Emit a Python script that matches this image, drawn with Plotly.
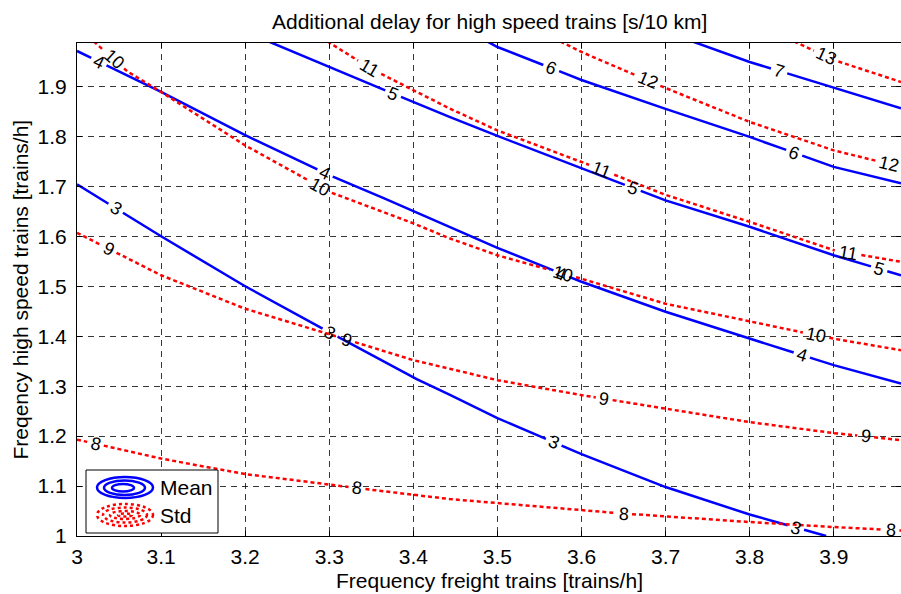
import numpy as np
import plotly.graph_objects as go

# Axis extents
X_RANGE = [3.0, 3.98]
Y_RANGE = [1.0, 1.987]

# Tick labels
x_tickvals = [3.0, 3.1, 3.2, 3.3, 3.4, 3.5, 3.6, 3.7, 3.8, 3.9]
x_ticktext = ["3", "3.1", "3.2", "3.3", "3.4", "3.5", "3.6", "3.7", "3.8", "3.9"]
y_tickvals = [1.0, 1.1, 1.2, 1.3, 1.4, 1.5, 1.6, 1.7, 1.8, 1.9]
y_ticktext = ["1", "1.1", "1.2", "1.3", "1.4", "1.5", "1.6", "1.7", "1.8", "1.9"]

# Mean delay contours [s/10 km]
mean_3_x = [3.0, 3.1, 3.2, 3.3, 3.404, 3.443, 3.5, 3.6, 3.7, 3.8, 3.891]
mean_3_y = [1.704, 1.600, 1.500, 1.408, 1.314, 1.283, 1.236, 1.164, 1.098, 1.043, 1.0]
mean_3_labels = [3.046, 3.301, 3.567, 3.855]

mean_4_x = [3.0, 3.1, 3.2, 3.305, 3.364, 3.4, 3.443, 3.5, 3.6, 3.7, 3.8, 3.9, 3.98]
mean_4_y = [1.971, 1.889, 1.8025, 1.719, 1.677, 1.650, 1.619, 1.577, 1.509, 1.449, 1.395, 1.342, 1.305]
mean_4_labels = [3.026, 3.295, 3.576, 3.862]

mean_5_x = [3.225, 3.3, 3.4, 3.443, 3.5, 3.6, 3.7, 3.8, 3.9, 3.98]
mean_5_y = [1.992, 1.939, 1.869, 1.839, 1.801, 1.736, 1.672, 1.619, 1.562, 1.522]
mean_5_labels = [3.376, 3.661, 3.954]

mean_6_x = [3.488, 3.5, 3.6, 3.7, 3.8, 3.9, 3.98]
mean_6_y = [1.990, 1.979, 1.913, 1.855, 1.799, 1.739, 1.706]
mean_6_labels = [3.564, 3.853]

mean_7_x = [3.732, 3.8, 3.9, 3.98]
mean_7_y = [1.990, 1.949, 1.898, 1.856]
mean_7_labels = [3.835]

# Standard deviation contours [s/10 km]
std_8_x = [3.0, 3.1, 3.2, 3.3, 3.4, 3.443, 3.5, 3.6, 3.7, 3.8, 3.9, 3.98]
std_8_y = [1.193, 1.155, 1.124, 1.103, 1.082, 1.074, 1.066, 1.051, 1.039, 1.028, 1.018, 1.011]
std_8_labels = [3.022, 3.333, 3.65, 3.968]

std_9_x = [3.0, 3.1, 3.2, 3.3, 3.4, 3.443, 3.5, 3.6, 3.7, 3.8, 3.9, 3.98]
std_9_y = [1.607, 1.522, 1.455, 1.404, 1.352, 1.335, 1.312, 1.282, 1.255, 1.228, 1.206, 1.192]
std_9_labels = [3.038, 3.321, 3.627, 3.938]

std_10_x = [3.02, 3.06, 3.1, 3.2, 3.3, 3.4, 3.443, 3.5, 3.6, 3.7, 3.8, 3.9, 3.98]
std_10_y = [1.990, 1.930, 1.889, 1.782, 1.689, 1.626, 1.596, 1.562, 1.515, 1.465, 1.429, 1.395, 1.372]
std_10_labels = [3.044, 3.289, 3.578, 3.879]

std_11_x = [3.298, 3.35, 3.4, 3.443, 3.5, 3.6, 3.7, 3.8, 3.9, 3.98]
std_11_y = [1.990, 1.935, 1.893, 1.856, 1.812, 1.749, 1.683, 1.629, 1.572, 1.549]
std_11_labels = [3.348, 3.624, 3.917]

std_12_x = [3.575, 3.6, 3.697, 3.741, 3.8, 3.9, 3.98]
std_12_y = [1.990, 1.969, 1.899, 1.869, 1.829, 1.772, 1.739]
std_12_labels = [3.679, 3.966]

std_13_x = [3.853, 3.9, 3.98]
std_13_y = [1.990, 1.953, 1.909]
std_13_labels = [3.891]

mean_contours = [
    (3, mean_3_x, mean_3_y, mean_3_labels),
    (4, mean_4_x, mean_4_y, mean_4_labels),
    (5, mean_5_x, mean_5_y, mean_5_labels),
    (6, mean_6_x, mean_6_y, mean_6_labels),
    (7, mean_7_x, mean_7_y, mean_7_labels),
]
std_contours = [
    (8, std_8_x, std_8_y, std_8_labels),
    (9, std_9_x, std_9_y, std_9_labels),
    (10, std_10_x, std_10_y, std_10_labels),
    (11, std_11_x, std_11_y, std_11_labels),
    (12, std_12_x, std_12_y, std_12_labels),
    (13, std_13_x, std_13_y, std_13_labels),
]

# Figure geometry (pixels)
W, H = 901, 594
ML, MR, MT, MB = 77, 0, 43, 58
PW, PH = W - ML - MR, H - MT - MB
SX = PW / (X_RANGE[1] - X_RANGE[0])
SY = PH / (Y_RANGE[1] - Y_RANGE[0])

FONT = "Arial, Liberation Sans, Helvetica, sans-serif"
TEXT_SIZE = 21
LABEL_SIZE = 18


def gapped_line(xs, ys, label_xs, text):
    """Break a contour polyline around its inline labels (clabel style)."""
    xs = np.asarray(xs, float)
    ys = np.asarray(ys, float)
    half = 0.5 * len(text) * 10 + 3.5
    cuts, labels = [], []
    for xl in label_xs:
        yl = float(np.interp(xl, xs, ys))
        h = 0.004
        slope = (np.interp(xl + h, xs, ys) - np.interp(xl - h, xs, ys)) / (2 * h)
        ang = float(np.degrees(np.arctan(-slope * SY / SX)))
        dxg = half * np.cos(np.radians(ang)) / SX
        cuts.append((xl - dxg, xl + dxg))
        labels.append((xl, yl, ang))
    starts = [a for a, _ in cuts]
    allx = np.unique(np.concatenate([xs, np.ravel(cuts)]))
    allx = allx[(allx >= xs[0]) & (allx <= xs[-1])]
    ox, oy = [], []
    for p in allx:
        if any(a < p < b for a, b in cuts):
            continue
        ox.append(float(p))
        oy.append(float(np.interp(p, xs, ys)))
        if any(abs(p - a) < 1e-12 for a in starts):
            ox.append(None)
            oy.append(None)
    return ox, oy, labels


fig = go.Figure()
annotations = []

for group, color, dash in [(mean_contours, "#0000ff", "solid"),
                           (std_contours, "#ff0000", "4px,3px")]:
    for level, xs, ys, lab in group:
        text = str(level)
        ox, oy, labels = gapped_line(xs, ys, lab, text)
        fig.add_trace(go.Scatter(
            x=ox, y=oy, mode="lines", connectgaps=False, showlegend=False,
            line=dict(color=color, width=2.5, dash=dash), hoverinfo="skip"))
        for xl, yl, ang in labels:
            annotations.append(dict(
                x=xl, y=yl, xref="x", yref="y", text=text, showarrow=False,
                textangle=ang, font=dict(family=FONT, size=LABEL_SIZE, color="black"),
                xanchor="center", yanchor="middle"))


def px_x(p):
    return (p - ML) / PW


def px_y(p):
    return (MT + PH - p) / PH


# Legend box drawn by hand: concentric rings for Mean, dotted rings for Std
shapes = [dict(type="rect", xref="paper", yref="paper",
               x0=px_x(86), x1=px_x(218), y0=px_y(533), y1=px_y(470),
               line=dict(color="black", width=1), fillcolor="white", layer="above")]
for (x0, y0, x1, y1) in [(97, 477, 153, 498), (104, 480.5, 145, 495), (112, 484, 134, 491.5)]:
    shapes.append(dict(type="circle", xref="paper", yref="paper",
                       x0=px_x(x0), x1=px_x(x1), y0=px_y(y1), y1=px_y(y0),
                       line=dict(color="#0000ff", width=2.5), layer="above"))
for (x0, y0, x1, y1) in [(97, 504, 153, 526), (103, 507.5, 147, 522.5),
                         (110, 511, 140, 519), (118, 513.5, 132, 516.5)]:
    shapes.append(dict(type="circle", xref="paper", yref="paper",
                       x0=px_x(x0), x1=px_x(x1), y0=px_y(y1), y1=px_y(y0),
                       line=dict(color="#ff0000", width=2.5, dash="3px,3px"), layer="above"))

for txt, yy in [("Mean", 487.5), ("Std", 515)]:
    annotations.append(dict(x=px_x(158), y=px_y(yy), xref="paper", yref="paper",
                            text=txt, showarrow=False, xanchor="left", yanchor="middle",
                            font=dict(family=FONT, size=TEXT_SIZE, color="black")))

# Axis titles and chart title
annotations.append(dict(x=0.5, y=px_y(580), xref="paper", yref="paper",
                        text="Frequency freight trains [trains/h]", showarrow=False,
                        xanchor="center", yanchor="middle",
                        font=dict(family=FONT, size=TEXT_SIZE, color="black")))
annotations.append(dict(x=px_x(20), y=0.5, xref="paper", yref="paper",
                        text="Freqency high speed trains [trains/h]", showarrow=False,
                        textangle=-90, xanchor="center", yanchor="middle",
                        font=dict(family=FONT, size=TEXT_SIZE, color="black")))
annotations.append(dict(x=0.5, y=px_y(21), xref="paper", yref="paper",
                        text="Additional delay for high speed trains [s/10 km]", showarrow=False,
                        xanchor="center", yanchor="middle",
                        font=dict(family=FONT, size=TEXT_SIZE, color="black")))

axis_common = dict(
    showline=True, linecolor="black", linewidth=1, mirror="ticks",
    ticks="inside", ticklen=5, tickcolor="black", tickwidth=1,
    showgrid=True, gridcolor="rgba(0,0,0,0.78)", gridwidth=1, griddash="6px,5px",
    zeroline=False, tickfont=dict(family=FONT, size=TEXT_SIZE, color="black"),
)

fig.update_layout(
    width=W, height=H,
    margin=dict(l=ML, r=MR, t=MT, b=MB, pad=0),
    paper_bgcolor="white", plot_bgcolor="white",
    xaxis=dict(range=X_RANGE, tickvals=x_tickvals, ticktext=x_ticktext,
               ticklabelstandoff=2, **axis_common),
    yaxis=dict(range=Y_RANGE, tickvals=y_tickvals, ticktext=y_ticktext,
               ticklabelstandoff=5, **axis_common),
    shapes=shapes, annotations=annotations, showlegend=False,
)

fig.write_html("out.html")
